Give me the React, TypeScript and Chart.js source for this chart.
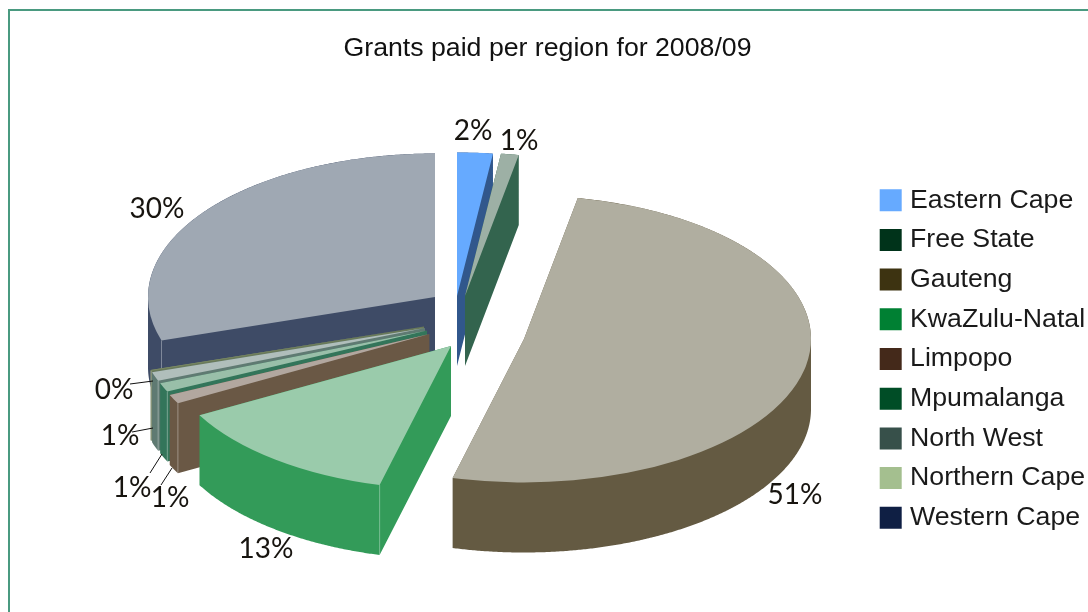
import React, { useEffect, useRef } from "react";
import { Chart, registerables } from "chart.js";

Chart.register(...registerables);

const regions = ["Eastern Cape", "Free State", "Gauteng", "KwaZulu-Natal", "Limpopo", "Mpumalanga", "North West", "Northern Cape", "Western Cape"];
const shares = [2, 1, 51, 13, 1, 1, 1, 0.1, 29.9];
const legendColors = ["#66aaff", "#00331a", "#3d3311", "#008033", "#44291a", "#004d26", "#37504a", "#a4bf8f", "#0f1f44"];
const topColors = ["#66aaff", "#9db0a5", "#b0aea0", "#9acbab", "#b2a79f", "#99bfa9", "#b0bebb", "#7d8c66", "#9fa8b3"];
const wallColors = ["#31578c", "#33644e", "#645a42", "#339b59", "#6a5845", "#33755a", "#5f7a72", "#6a7a5a", "#3e4b66"];

// Style: page position of each slice's apex once exploded, the canvas offset, and the label anchors.
const canvasLeft = 10;
const canvasTop = 11;
const apexX = [457, 465, 524, 451, 429.4, 427, 425, 424, 435];
const apexY = [296, 296, 339, 346, 334, 330.5, 328, 326.5, 297];
const labelX = [473, 519, 795, 266, 170, 132, 120, 114, 157];
const labelY = [131, 141, 495, 549, 498, 488, 436, 390, 209];
const leaderFromX = [null, null, null, null, 161, 150, 132, 130, null];
const leaderFromY = [null, null, null, null, 485, 473, 432, 384, null];
const leaderToX = [null, null, null, null, 172, 162, 153, 153, null];
const leaderToY = [null, null, null, null, 468, 454, 428, 381, null];
const drawOrder = [8, 0, 1, 7, 6, 5, 4, 3, 2];
const squash = 0.5;
const depth = 70;

type P = [number, number];

function addPoly(ctx: CanvasRenderingContext2D, pts: P[]) {
  let area = 0;
  pts.forEach((p, k) => {
    const q = pts[(k + 1) % pts.length];
    area += p[0] * q[1] - q[0] * p[1];
  });
  const list = area < 0 ? [...pts].reverse() : pts;
  list.forEach((p, k) => (k ? ctx.lineTo(p[0], p[1]) : ctx.moveTo(p[0], p[1])));
  ctx.closePath();
}

const pie3d = {
  id: "pie3d",
  afterLayout(chart: any) {
    const l = chart.legend;
    const w = l.right - l.left;
    const h = l.bottom - l.top;
    l.left = 867 - 5.3;
    l.right = l.left + w;
    l.top = (chart.height - h) / 2 + 47.5;
    l.bottom = l.top + h;
  },
  beforeDatasetsDraw(chart: any) {
    const ctx = chart.ctx;
    const arcs = chart.getDatasetMeta(0).data;
    const drawTop = (arc: any, color: string, px: number, py: number) => {
      const saved = arc.options;
      arc.options = Object.assign(Object.create(saved), { backgroundColor: color, borderWidth: 0 });
      ctx.save();
      ctx.translate(px, py);
      ctx.scale(1, squash);
      ctx.translate(-arc.x, -arc.y);
      arc.draw(ctx);
      ctx.restore();
      arc.options = saved;
    };
    for (const i of drawOrder) {
      const arc = arcs[i];
      const px = apexX[i] - canvasLeft;
      const py = apexY[i] - canvasTop;
      const rim = (a: number, z: number): P => [
        px + arc.outerRadius * Math.cos(a),
        py + arc.outerRadius * Math.sin(a) * squash + z,
      ];
      const steps = Math.max(2, Math.ceil((arc.endAngle - arc.startAngle) / 0.006));
      const angle = (k: number) => arc.startAngle + ((arc.endAngle - arc.startAngle) * k) / steps;
      // The whole side of the slice goes into one path, so it has no seams.
      ctx.save();
      ctx.fillStyle = wallColors[i];
      ctx.beginPath();
      const fan: P[] = [[px, py + depth]];
      for (let k = 0; k <= steps; k++) fan.push(rim(angle(k), depth));
      addPoly(ctx, fan);
      for (let k = 0; k < steps; k++) {
        addPoly(ctx, [rim(angle(k), 0), rim(angle(k + 1), 0), rim(angle(k + 1), depth), rim(angle(k), depth)]);
      }
      addPoly(ctx, [[px, py], rim(arc.startAngle, 0), rim(arc.startAngle, depth), [px, py + depth]]);
      addPoly(ctx, [[px, py], rim(arc.endAngle, 0), rim(arc.endAngle, depth), [px, py + depth]]);
      ctx.fill();
      ctx.restore();
      // pale seam down the wall at the slice's visible rim corner
      const a = arc.startAngle;
      if (Math.cos(a) < 0 && Math.sin(a) > 0) {
        const [cx, cy] = rim(a, 0);
        ctx.save();
        ctx.strokeStyle = "rgba(255,255,255,0.35)";
        ctx.lineWidth = 1;
        ctx.beginPath();
        ctx.moveTo(cx, cy);
        ctx.lineTo(cx, cy + depth);
        ctx.stroke();
        ctx.restore();
      }
      drawTop(arc, topColors[i], px, py);
    }
    ctx.save();
    ctx.strokeStyle = "#111111";
    ctx.lineWidth = 1;
    shares.forEach((_, i) => {
      const fx = leaderFromX[i], fy = leaderFromY[i], tx = leaderToX[i], ty = leaderToY[i];
      if (fx == null || fy == null || tx == null || ty == null) return;
      ctx.beginPath();
      ctx.moveTo(fx - canvasLeft, fy - canvasTop);
      ctx.lineTo(tx - canvasLeft, ty - canvasTop);
      ctx.stroke();
    });
    ctx.fillStyle = "#17140f";
    ctx.font = "28px Lato";
    ctx.textAlign = "center";
    ctx.textBaseline = "middle";
    shares.forEach((v, i) => {
      ctx.fillText(`${Math.round(v)}%`, labelX[i] - canvasLeft, labelY[i] - canvasTop);
    });
    ctx.restore();
    return false;
  },
};

export default function App() {
  const ref = useRef<HTMLCanvasElement>(null);
  useEffect(() => {
    const chart = new Chart(ref.current as HTMLCanvasElement, {
      type: "pie",
      data: {
        labels: regions,
        datasets: [{ data: shares, backgroundColor: topColors, borderWidth: 0, radius: 287 } as any],
      },
      plugins: [pie3d as any],
      options: {
        responsive: false,
        animation: false,
        rotation: 0,
        layout: { padding: { right: 3 } },
        plugins: {
          tooltip: { enabled: false },
          title: {
            display: true,
            text: "Grants paid per region for 2008/09",
            color: "#111111",
            font: { family: "'Liberation Sans'", size: 26.7, weight: "normal" },
            padding: { top: 22, bottom: 0 },
          },
          legend: {
            position: "right",
            labels: {
              usePointStyle: true,
              boxWidth: 12,
              boxHeight: 22,
              padding: 13,
              color: "#1a1a1a",
              font: { family: "'Liberation Sans'", size: 26.7 },
              generateLabels: () =>
                regions.map((text, i) => ({
                  text,
                  fillStyle: legendColors[i],
                  strokeStyle: legendColors[i],
                  lineWidth: 0,
                  pointStyle: "rect",
                  fontColor: "#1a1a1a",
                  hidden: false,
                  index: i,
                })),
            },
          },
        },
      } as any,
    });
    return () => chart.destroy();
  }, []);
  return (
    <div
      style={{
        position: "absolute",
        left: 8,
        top: 9,
        width: 1080,
        height: 603,
        boxSizing: "border-box",
        borderLeft: "2px solid #4a9a80",
        borderTop: "2px solid #4a9a80",
        background: "#ffffff",
      }}
    >
      <canvas ref={ref} width={1078} height={601} style={{ display: "block" }} />
    </div>
  );
}
